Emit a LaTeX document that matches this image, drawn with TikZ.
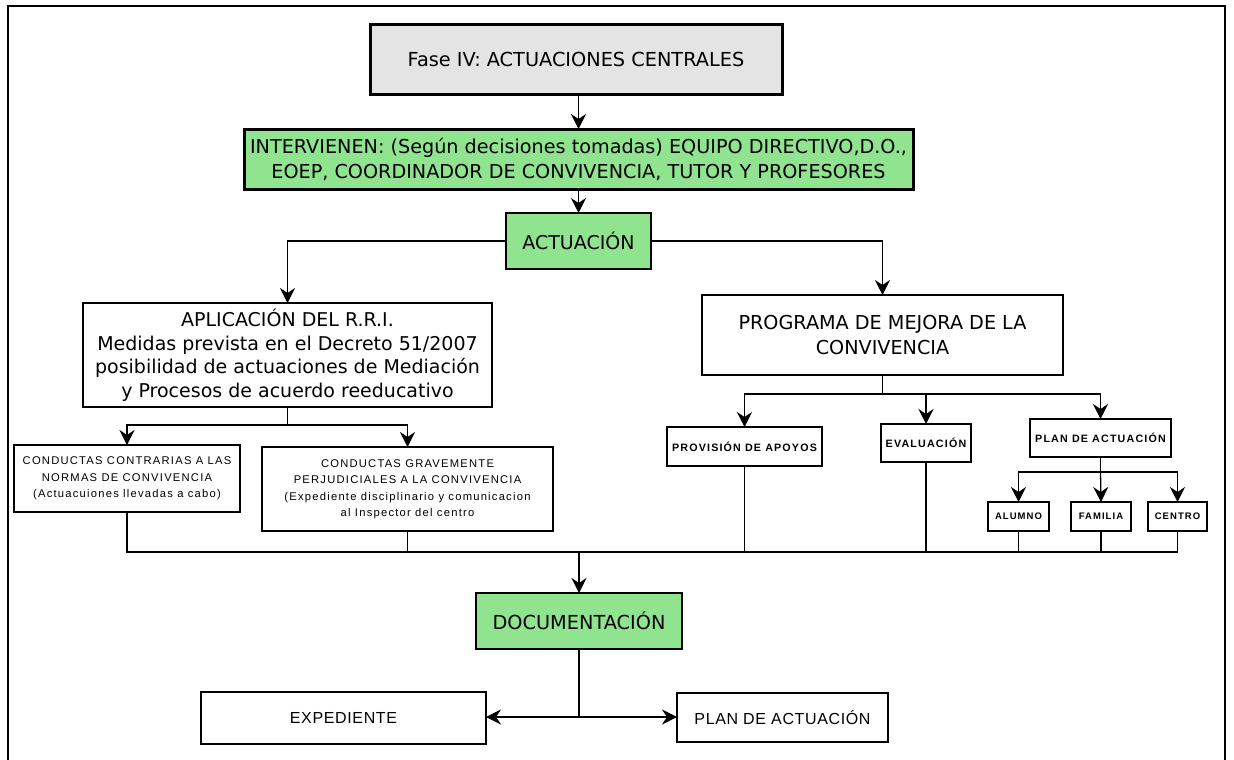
\documentclass[tikz,border=0pt]{standalone}
\usepackage{fontspec}
\setmainfont{DejaVu Sans}
\newfontfamily\smallf[LetterSpace=11]{Liberation Sans}
\newfontfamily\lowf[LetterSpace=4]{Liberation Sans}
\usetikzlibrary{arrows.meta}
\definecolor{boxgreen}{RGB}{144,228,144}
\definecolor{boxgray}{RGB}{228,228,228}
\begin{document}
\begin{tikzpicture}[x=1pt,y=-1pt,
  every node/.style={inner sep=0pt, outer sep=0pt, align=center},
  box/.style={draw, line width=1.3pt, fill=white},
  heavybox/.style={draw, line width=3pt},
  ln/.style={line width=1.3pt},
  arr/.style={line width=1.3pt, -{Stealth[length=15pt,width=15pt,inset=5pt]}},
  bigtxt/.style={font=\fontsize{19}{23.5}\selectfont},
  smtxt/.style={font=\smallf\fontsize{11.2}{16.5}\selectfont},
  smbold/.style={font=\smallf\bfseries\fontsize{10.7}{13}\selectfont},
  tinytxt/.style={font=\smallf\bfseries\fontsize{9.5}{12}\selectfont},
  lowtxt/.style={font=\lowf\fontsize{16}{19}\selectfont},
]
\useasboundingbox (0,0) rectangle (1234,760);
\draw[line width=2pt] (8,6) rectangle (1225,764);

\node[heavybox, fill=boxgray, minimum width=412pt, minimum height=69pt, font=\fontsize{19.3}{23}\selectfont] (fase) at (576,59.5) {Fase IV: ACTUACIONES CENTRALES};
\node[heavybox, fill=boxgreen, minimum width=669pt, minimum height=60pt, font=\fontsize{19.2}{25}\selectfont] (interv) at (578.5,159) {INTERVIENEN: (Según decisiones tomadas) EQUIPO DIRECTIVO,D.O.,\\EOEP, COORDINADOR DE CONVIVENCIA, TUTOR Y PROFESORES};
\node[box, fill=boxgreen, minimum width=145pt, minimum height=56pt, font=\fontsize{19}{22}\selectfont] (actu) at (578.5,241) {ACTUACIÓN};
\node[box, minimum width=409pt, minimum height=104pt, bigtxt] (aplic) at (287.5,355) {APLICACIÓN DEL R.R.I.\\Medidas prevista en el Decreto 51/2007\\posibilidad de actuaciones de Mediación\\y Procesos de acuerdo reeducativo};
\node[box, minimum width=361pt, minimum height=80pt, font=\fontsize{19.2}{25}\selectfont] (prog) at (882.5,335) {PROGRAMA DE MEJORA DE LA\\CONVIVENCIA};

\node[box, minimum width=226pt, minimum height=67pt, smtxt] (cc) at (127,478.5) {CONDUCTAS CONTRARIAS A LAS\\NORMAS DE CONVIVENCIA\\(Actuacuiones llevadas a cabo)};
\node[box, minimum width=291pt, minimum height=84pt, smtxt] (cg) at (407.5,489) {CONDUCTAS GRAVEMENTE\\PERJUDICIALES A LA CONVIVENCIA\\(Expediente disciplinario y comunicacion\\al Inspector del centro};

\node[box, minimum width=155pt, minimum height=39pt, smbold] (prov) at (744.5,446.5) {PROVISIÓN DE APOYOS};
\node[box, minimum width=90pt, minimum height=38pt, smbold] (eval) at (926,443) {EVALUACIÓN};
\node[box, minimum width=141pt, minimum height=38pt, smbold] (plan) at (1100.5,438) {PLAN DE ACTUACIÓN};

\node[box, minimum width=61pt, minimum height=29pt, tinytxt] (alumno) at (1018.5,516.5) {ALUMNO};
\node[box, minimum width=60pt, minimum height=29pt, tinytxt] (familia) at (1101,516.5) {FAMILIA};
\node[box, minimum width=59pt, minimum height=29pt, tinytxt] (centro) at (1177.5,516.5) {CENTRO};

\node[box, fill=boxgreen, minimum width=206pt, minimum height=56pt, font=\fontsize{19.3}{22}\selectfont] (doc) at (579,621) {DOCUMENTACIÓN};
\node[box, minimum width=285pt, minimum height=52pt, lowtxt] (exp) at (343.5,718) {EXPEDIENTE};
\node[box, minimum width=211pt, minimum height=49pt, lowtxt] (plan2) at (782.5,717.5) {PLAN DE ACTUACIÓN};

% connectors
\draw[arr] (interv.north |- fase.south) -- (interv.north);
\draw[arr] (interv.south) -- (actu.north);
\draw[arr] (actu.west) -| (aplic.north);
\draw[arr] (actu.east) -| (prog.north);

\coordinate (s1) at (287.5,425);
\draw[ln] (aplic.south) -- (s1);
\draw[arr] (s1) -| (cc.north);
\draw[arr] (s1) -| (cg.north);

\coordinate (s2) at (882.5,394);
\draw[ln] (prog.south) -- (s2);
\draw[arr] (s2) -| (prov.north);
\draw[arr] (s2) -| (eval.north);
\draw[arr] (s2) -| (plan.north);

\coordinate (s3) at (1100.5,472);
\draw[ln] (plan.south) -- (s3);
\draw[arr] (s3) -| (alumno.north);
\draw[arr] (s3) -- (familia.north);
\draw[arr] (s3) -| (centro.north);

\coordinate (bus) at (579,552);
\draw[ln] (cc.south) -- (cc.south |- bus) -- (centro.south |- bus) -- (centro.south);
\foreach \n in {cg,prov,eval,alumno,familia}{
  \draw[ln] (\n.south) -- (\n.south |- bus);
}
\draw[arr] (bus) -- (doc.north);

\coordinate (split) at (579,717);
\draw[ln] (doc.south) -- (split);
\draw[arr] (split) -- (exp.east |- split);
\draw[arr] (split) -- (plan2.west |- split);
\end{tikzpicture}
\end{document}
